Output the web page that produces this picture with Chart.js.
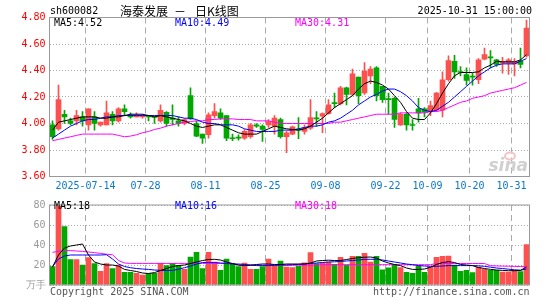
<!DOCTYPE html>
<html>
<head>
<meta charset="utf-8">
<script src="https://cdn.jsdelivr.net/npm/chart.js@4.4.1/dist/chart.umd.min.js"></script>
<style>
  html, body { margin: 0; padding: 0; background: #fff; }
  #wrap { position: relative; width: 545px; height: 300px; }
  #kline { position: absolute; left: 0; top: 0; }
  #vol { position: absolute; left: 0; top: 195px; }
</style>
</head>
<body>
<div id="wrap">
  <canvas id="kline" width="545" height="195" style="width:545px;height:195px"></canvas>
  <canvas id="vol" width="545" height="105" style="width:545px;height:105px"></canvas>
</div>
<script>
// sh600082 daily k-line, 2025-07-04 .. 2025-10-31

const code = "sh600082";
const titleParts = ["海泰发展", "－", "日K线图"];
const updated = "15:00:00";

const dates = [
  "2025-07-04", "2025-07-07", "2025-07-08", "2025-07-09", "2025-07-10", "2025-07-11",
  "2025-07-14", "2025-07-15", "2025-07-16", "2025-07-17", "2025-07-18",
  "2025-07-21", "2025-07-22", "2025-07-23", "2025-07-24", "2025-07-25",
  "2025-07-28", "2025-07-29", "2025-07-30", "2025-07-31", "2025-08-01",
  "2025-08-04", "2025-08-05", "2025-08-06", "2025-08-07", "2025-08-08",
  "2025-08-11", "2025-08-12", "2025-08-13", "2025-08-14", "2025-08-15",
  "2025-08-18", "2025-08-19", "2025-08-20", "2025-08-21", "2025-08-22",
  "2025-08-25", "2025-08-26", "2025-08-27", "2025-08-28", "2025-08-29",
  "2025-09-01", "2025-09-02", "2025-09-03", "2025-09-04", "2025-09-05",
  "2025-09-08", "2025-09-09", "2025-09-10", "2025-09-11", "2025-09-12",
  "2025-09-15", "2025-09-16", "2025-09-17", "2025-09-18", "2025-09-19",
  "2025-09-22", "2025-09-23", "2025-09-24", "2025-09-25", "2025-09-26",
  "2025-09-29", "2025-09-30", "2025-10-09", "2025-10-10",
  "2025-10-13", "2025-10-14", "2025-10-15", "2025-10-16", "2025-10-17",
  "2025-10-20", "2025-10-21", "2025-10-22", "2025-10-23", "2025-10-24",
  "2025-10-27", "2025-10-28", "2025-10-29", "2025-10-30", "2025-10-31",
];

const open = [
  3.99, 3.96, 4.07, 4.02, 4.02, 4.05, 3.99, 4.05, 3.99, 3.99,
  4.07, 4.02, 4.11, 4.06, 4.05, 4.05, 4.06, 4.05, 4.02, 4.085,
  4.04, 4.02, 4.00, 4.21, 4.00, 3.92, 3.915, 4.06, 4.08, 4.06,
  3.89, 3.895, 3.89, 3.90, 3.99, 3.98, 3.99, 3.98, 4.03, 3.90,
  3.92, 3.955, 3.94, 3.965, 4.04, 4.055, 4.075, 4.155, 4.15, 4.27,
  4.22, 4.35, 4.23, 4.36, 4.42, 4.28, 4.185, 4.19, 3.99, 4.07,
  3.99, 4.11, 4.11, 4.09, 4.10, 4.10, 4.33, 4.47, 4.39, 4.37,
  4.355, 4.33, 4.485, 4.50, 4.48, 4.455, 4.455, 4.45, 4.47, 4.51,
];
const high = [
  4.02, 4.29, 4.10, 4.04, 4.10, 4.09, 4.11, 4.09, 4.01, 4.17,
  4.09, 4.12, 4.14, 4.08, 4.08, 4.07, 4.06, 4.05, 4.14, 4.09,
  4.14, 4.05, 4.035, 4.27, 4.02, 3.92, 4.08, 4.15, 4.11, 4.06,
  3.92, 3.915, 3.955, 4.00, 4.00, 3.99, 4.03, 4.06, 4.04, 3.94,
  3.98, 4.045, 3.99, 4.18, 4.09, 4.08, 4.18, 4.23, 4.28, 4.275,
  4.41, 4.35, 4.46, 4.43, 4.43, 4.28, 4.23, 4.20, 4.08, 4.08,
  4.03, 4.19, 4.12, 4.17, 4.235, 4.39, 4.51, 4.515, 4.43, 4.42,
  4.38, 4.49, 4.57, 4.55, 4.485, 4.50, 4.49, 4.49, 4.57, 4.78,
];
const low = [
  3.88, 3.95, 4.00, 3.99, 3.99, 3.98, 3.95, 3.95, 3.98, 3.99,
  3.99, 4.01, 4.06, 4.04, 4.05, 4.04, 4.02, 4.00, 4.01, 3.98,
  3.99, 3.98, 3.99, 4.03, 3.90, 3.85, 3.89, 4.04, 4.03, 3.87,
  3.87, 3.875, 3.88, 3.89, 3.97, 3.865, 3.97, 3.92, 3.89, 3.78,
  3.915, 3.885, 3.92, 3.955, 3.98, 3.93, 4.07, 4.12, 4.14, 4.14,
  4.21, 4.15, 4.22, 4.30, 4.17, 4.16, 4.07, 3.97, 3.985, 3.95,
  3.95, 4.01, 4.05, 4.06, 4.09, 4.05, 4.32, 4.34, 4.36, 4.29,
  4.29, 4.30, 4.48, 4.42, 4.43, 4.38, 4.37, 4.36, 4.42, 4.50,
];
const close = [
  3.90, 4.18, 4.05, 4.00, 4.06, 4.02, 4.11, 4.00, 4.01, 4.08,
  4.02, 4.11, 4.09, 4.05, 4.06, 4.06, 4.05, 4.045, 4.10, 4.00,
  4.03, 4.00, 4.03, 4.035, 3.905, 3.89, 4.065, 4.09, 4.04, 3.89,
  3.885, 3.89, 3.94, 3.99, 3.98, 3.955, 4.015, 4.04, 3.90, 3.93,
  3.975, 3.95, 3.97, 4.045, 4.035, 4.075, 4.14, 4.15, 4.27, 4.22,
  4.375, 4.21, 4.395, 4.41, 4.21, 4.18, 4.18, 4.03, 4.07, 3.99,
  3.985, 4.08, 4.085, 4.135, 4.23, 4.33, 4.475, 4.39, 4.385, 4.325,
  4.35, 4.48, 4.52, 4.495, 4.445, 4.47, 4.48, 4.47, 4.445, 4.72,
];

// moving averages as drawn on the chart
const ma5 = [
  3.95, 4.01, 4.02, 4.03, 4.04, 4.05, 4.05, 4.05, 4.04, 4.04,
  4.05, 4.05, 4.06, 4.07, 4.07, 4.07, 4.06, 4.05, 4.06, 4.05,
  4.04, 4.03, 4.02, 4.00, 3.98, 3.97, 3.98, 3.99, 3.99, 3.97,
  3.95, 3.93, 3.92, 3.92, 3.92, 3.94, 3.96, 3.98, 3.97, 3.96,
  3.955, 3.95, 3.96, 3.98, 4.01, 4.04, 4.08, 4.12, 4.15, 4.18,
  4.21, 4.26, 4.30, 4.32, 4.31, 4.29, 4.26, 4.21, 4.16, 4.09,
  4.04, 4.03, 4.03, 4.08, 4.15, 4.23, 4.30, 4.36, 4.385, 4.385,
  4.385, 4.39, 4.42, 4.44, 4.47, 4.465, 4.465, 4.465, 4.48, 4.52,
];
const ma10 = [
  3.89, 3.92, 3.95, 3.98, 4.00, 4.02, 4.03, 4.03, 4.04, 4.05,
  4.05, 4.06, 4.06, 4.06, 4.06, 4.06, 4.06, 4.06, 4.06, 4.06,
  4.06, 4.05, 4.04, 4.04, 4.03, 4.01, 4.00, 4.00, 3.99, 3.99,
  3.99, 3.98, 3.96, 3.95, 3.94, 3.94, 3.94, 3.94, 3.95, 3.95,
  3.95, 3.96, 3.97, 3.98, 3.98, 3.99, 4.01, 4.02, 4.04, 4.07,
  4.10, 4.14, 4.17, 4.20, 4.22, 4.245, 4.26, 4.26, 4.24, 4.21,
  4.17, 4.12, 4.10, 4.09, 4.10, 4.13, 4.16, 4.20, 4.24, 4.28,
  4.32, 4.36, 4.39, 4.42, 4.44, 4.45, 4.45, 4.45, 4.47, 4.49,
];
const ma30 = [
  3.87, 3.88, 3.89, 3.90, 3.91, 3.92, 3.92, 3.92, 3.92, 3.92,
  3.92, 3.91, 3.90, 3.905, 3.915, 3.93, 3.94, 3.955, 3.965, 3.98,
  3.99, 4.00, 4.01, 4.015, 4.02, 4.02, 4.03, 4.03, 4.035, 4.035,
  4.035, 4.03, 4.03, 4.03, 4.02, 4.02, 4.02, 4.01, 4.00, 4.00,
  4.00, 4.00, 4.00, 4.00, 4.00, 4.00, 4.00, 4.01, 4.01, 4.02,
  4.03, 4.04, 4.05, 4.06, 4.07, 4.07, 4.07, 4.07, 4.08, 4.08,
  4.08, 4.08, 4.08, 4.09, 4.09, 4.10, 4.12, 4.14, 4.16, 4.17,
  4.19, 4.20, 4.21, 4.23, 4.24, 4.25, 4.26, 4.27, 4.29, 4.31,
];

// volume, in 10k lots
const volume = [
  18.4, 79, 58.4, 25.4, 25.4, 20, 27.3, 21.3, 13.7, 21.3,
  16.5, 20, 12.7, 12.7, 11.7, 9.8, 11.7, 11.7, 21.6, 19.4,
  21.6, 19.4, 15.6, 27.9, 32.7, 16.5, 32.7, 22.9, 14.6, 26,
  21, 18.4, 21.9, 15.6, 15.6, 18.4, 26, 19.4, 24, 18,
  17.5, 18.7, 22.2, 32.5, 21.3, 22.2, 22.9, 20.6, 27.6, 20,
  28.6, 28.6, 31.7, 22.9, 28.6, 15.2, 17.1, 20.6, 17.5, 12.7,
  11.7, 19, 12.7, 18, 27.6, 28.6, 28.9, 20, 13.7, 14.6,
  12.4, 17.8, 15.6, 14.6, 14.6, 13, 13, 14.6, 13.3, 40.3,
];
const volMa5 = [
  18, 30, 37, 39, 40, 41, 30, 23, 21, 20,
  20, 19, 15.6, 14.5, 13.5, 12, 11.5, 12.4, 14.5, 16.5,
  18.5, 19.5, 20, 21.5, 23, 24.5, 25.5, 25.7, 25, 23,
  21.5, 20, 19.4, 19.8, 20.5, 21, 21, 20.5, 20.5, 21,
  21, 21, 21, 22, 24, 24.5, 24.8, 24.5, 24.5, 25.5,
  26.5, 27.3, 27.8, 28, 27, 24, 22, 20.5, 19.4, 17,
  15.6, 15.6, 16, 17.8, 20.5, 22.5, 23.3, 22.5, 20.5, 20,
  19.4, 17.5, 16.5, 15.6, 15, 14.6, 14.3, 14.3, 14.6, 18,
];
const volMa10 = [
  18.4, 26, 29, 30, 30, 30, 30, 30, 30, 30.3,
  26, 21, 18.5, 17.3, 16.5, 16, 15.6, 15, 14.6, 14.6,
  14.6, 15.8, 17.3, 19, 21, 22.5, 22.5, 22.5, 22, 21.5,
  21, 21, 20.5, 20, 19.4, 19.4, 19.4, 19.6, 20, 20,
  20.3, 20.6, 21, 21.5, 22, 22.5, 23, 23.2, 23.6, 24,
  24.5, 25, 25.7, 25.7, 25.7, 25, 24, 23, 22, 21,
  20.3, 19.4, 19, 18.7, 18.7, 19, 19.4, 19.4, 19.4, 19.4,
  19.4, 19.2, 18.7, 17.8, 17, 16.5, 15.8, 15.2, 14.8, 16,
];
const volMa30 = [
  32.7, 33.6, 34.4, 34.4, 34, 33.6, 33, 32.4, 31.6, 30.8,
  30.2, 24.5, 22, 21.6, 21.6, 21.6, 21.6, 21.6, 21.6, 21.6,
  21.6, 21.6, 21.6, 21.6, 21.6, 21.6, 21.6, 21.6, 21.6, 21.6,
  21.6, 19.8, 19.8, 19.8, 19.8, 19.8, 19.8, 19.8, 19.8, 19.8,
  19.8, 19.8, 19.8, 19.8, 19.8, 20.3, 20.3, 20.3, 20.3, 20.3,
  20.3, 20.3, 20.3, 20.3, 20.3, 20.3, 20.3, 20.3, 20.3, 20.3,
  20.3, 20.3, 20.3, 20.3, 21.5, 21.5, 21.5, 21.5, 21.5, 21.5,
  21.5, 21.5, 21.5, 19.3, 19.1, 18.9, 18.8, 18.6, 18.5, 18.3,
];

// axis labels
const xTickLabels = ["2025-07-14", "07-28", "08-11", "08-25", "09-08", "09-22", "10-09", "10-20", "10-31"];
const xTickAt = [6, 16, 26, 36, 46, 56, 63, 70, 77];
const volUnit = "万手";

const RED = "#ff5050";
const GREEN = "#00a800";
const MONO = "'DejaVu Sans Mono', monospace";
const CJK = "'Noto Sans CJK SC', sans-serif";
const GRID = "#aaaaaa";

const candleColor = close.map((c, i) => (c >= open[i] ? RED : GREEN));
const last = (a) => a[a.length - 1];

function lineSet(label, data, color, order) {
  return {
    type: "line", label: label, data: data, borderColor: color,
    borderWidth: 1, pointRadius: 0, tension: 0, order: order,
  };
}

// shared x axis: dashed vertical lines only at the dated ticks
function xScale(height, showLabels) {
  return {
    afterFit(s) { s.height = height; },
    ticks: {
      display: showLabels, autoSkip: false, maxRotation: 0, padding: 4, labelOffset: -3,
      color: "#0a78cc", font: { family: MONO, size: 10 },
      callback: (v, i) => { const k = xTickAt.indexOf(i); return k >= 0 ? xTickLabels[k] : ""; },
    },
    grid: {
      offset: true, drawTicks: false,
      color: (c) => (xTickAt.includes(c.index) ? GRID : "rgba(0,0,0,0)"),
    },
    border: { display: false, dash: [6, 4] },
  };
}

function drawFrame(chart) {
  const { ctx, chartArea: a } = chart;
  ctx.save();
  ctx.strokeStyle = "#999";
  ctx.lineWidth = 1;
  ctx.strokeRect(a.left, a.top, a.right - a.left, a.bottom - a.top);
  ctx.restore();
}

function drawMaLegend(ctx, y, values) {
  ctx.font = "10px " + MONO;
  ctx.textBaseline = "middle";
  ctx.textAlign = "left";
  ctx.fillStyle = "#000";
  ctx.fillText("MA5:" + values[0], 54, y);
  ctx.fillStyle = "#0000ff";
  ctx.fillText("MA10:" + values[1], 175, y);
  ctx.fillStyle = "#ff00ff";
  ctx.fillText("MA30:" + values[2], 295, y);
}

const klineText = {
  id: "klineText",
  beforeDatasetsDraw(chart) {
    const ctx = chart.ctx;
    ctx.save();
    // sina watermark
    ctx.font = "italic bold 17px 'DejaVu Sans', sans-serif";
    ctx.fillStyle = "#d0d0d0";
    ctx.textAlign = "right";
    ctx.textBaseline = "alphabetic";
    ctx.fillText("sina", 528, 171);
    ctx.strokeStyle = "#f2c4c4";
    ctx.lineWidth = 2;
    ctx.beginPath();
    ctx.ellipse(510, 156, 5, 3.5, 0, 0, Math.PI * 2);
    ctx.stroke();
    ctx.restore();
  },
  afterDraw(chart) {
    const ctx = chart.ctx;
    drawFrame(chart);
    ctx.save();
    ctx.textBaseline = "middle";
    ctx.fillStyle = "#000";
    ctx.font = "10px " + MONO;
    ctx.textAlign = "left";
    ctx.fillText(code, 50, 11.5);
    ctx.textAlign = "right";
    ctx.fillText(last(dates) + " " + updated, 532, 11.5);
    ctx.font = "12px " + CJK;
    ctx.textAlign = "left";
    ctx.fillText(titleParts[0], 120, 11.5);
    ctx.fillText(titleParts[1], 174, 11.5);
    ctx.fillText(titleParts[2], 195, 11.5);
    drawMaLegend(ctx, 23.5, [last(ma5).toFixed(2), last(ma10).toFixed(2), last(ma30).toFixed(2)]);
    ctx.restore();
  },
};

const volText = {
  id: "volText",
  afterDraw(chart) {
    const ctx = chart.ctx;
    drawFrame(chart);
    ctx.save();
    drawMaLegend(ctx, 11.7, [Math.round(last(volMa5)), Math.round(last(volMa10)), Math.round(last(volMa30))]);
    ctx.font = "10px " + MONO;
    ctx.fillStyle = "#555";
    ctx.textBaseline = "middle";
    ctx.textAlign = "left";
    ctx.fillText("Copyright 2025 SINA.COM", 50, 97);
    ctx.textAlign = "right";
    ctx.fillText("http://finance.sina.com.cn", 529.5, 97);
    ctx.restore();
  },
};

Chart.defaults.font.family = MONO;
Chart.defaults.font.size = 10;

new Chart(document.getElementById("kline"), {
  type: "bar",
  data: {
    labels: dates,
    datasets: [
      lineSet("MA5", ma5, "#000000", 0),
      lineSet("MA10", ma10, "#0000ff", 1),
      lineSet("MA30", ma30, "#ff00ff", 2),
      {
        label: "body", data: open.map((o, i) => [o, close[i]]),
        backgroundColor: candleColor, barThickness: 5, grouped: false, minBarLength: 1, order: 3,
      },
      {
        label: "wick", data: low.map((l, i) => [l, high[i]]),
        backgroundColor: candleColor, barThickness: 1, grouped: false, order: 4,
      },
    ],
  },
  options: {
    responsive: false,
    animation: false,
    layout: { padding: { left: 0, right: 15.5, top: 17.5, bottom: 0 } },
    plugins: { legend: { display: false }, tooltip: { enabled: false } },
    scales: {
      x: xScale(18.5, true),
      y: {
        min: 3.6, max: 4.8,
        afterFit(s) { s.width = 49.5; },
        ticks: {
          stepSize: 0.2, padding: 4, color: "#ff0000", font: { family: MONO, size: 10 },
          callback: (v) => v.toFixed(2),
        },
        grid: { color: GRID, drawTicks: false },
        border: { display: false, dash: [1, 2] },
      },
    },
  },
  plugins: [klineText],
});

new Chart(document.getElementById("vol"), {
  type: "bar",
  data: {
    labels: dates,
    datasets: [
      lineSet("MA5", volMa5, "#000000", 0),
      lineSet("MA10", volMa10, "#0000ff", 1),
      lineSet("MA30", volMa30, "#ff00ff", 2),
      { label: "volume", data: volume, backgroundColor: candleColor, barThickness: 5, order: 3 },
    ],
  },
  options: {
    responsive: false,
    animation: false,
    layout: { padding: { left: 0, right: 15.5, top: 6, bottom: 0 } },
    plugins: { legend: { display: false }, tooltip: { enabled: false } },
    scales: {
      x: xScale(15, false),
      y: {
        min: 0, max: 80,
        afterFit(s) { s.width = 49.5; },
        ticks: {
          stepSize: 20, padding: 4, color: "#999999", font: { family: MONO, size: 10 },
          callback: (v) => (v === 0 ? volUnit : v),
        },
        grid: { color: GRID, drawTicks: false },
        border: { display: false, dash: [1, 2] },
      },
    },
  },
  plugins: [volText],
});
</script>
</body>
</html>
